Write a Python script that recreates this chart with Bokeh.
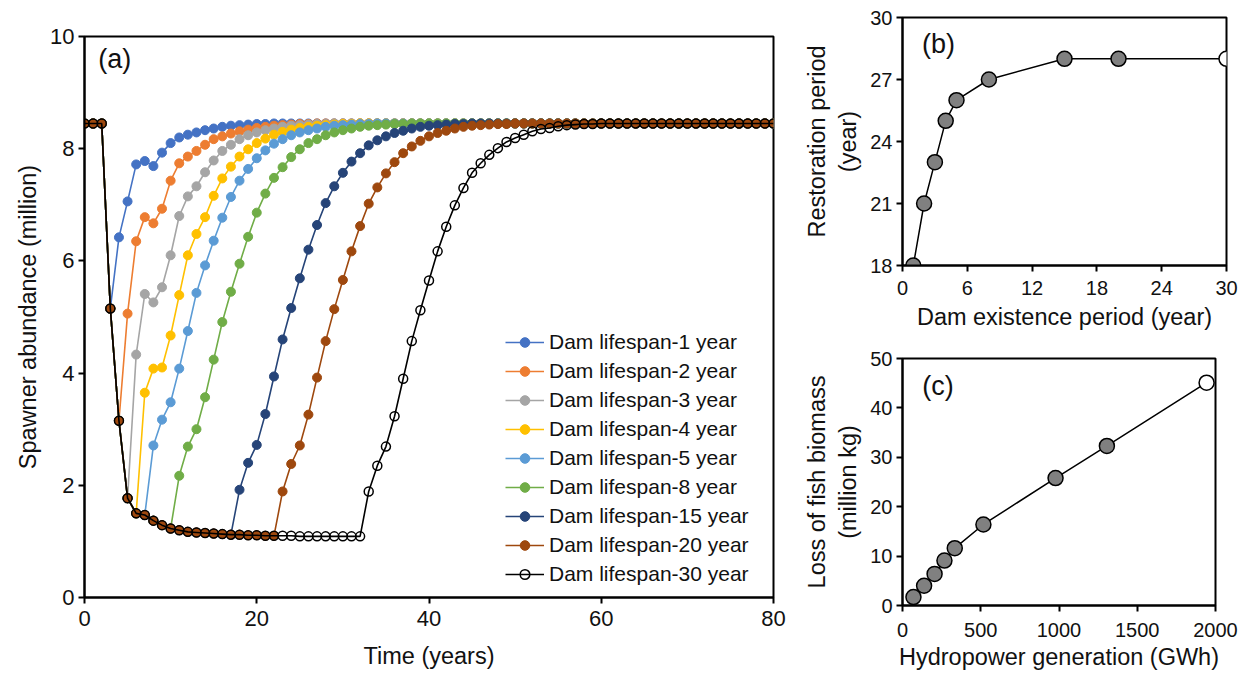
from bokeh.plotting import figure
from bokeh.models import Range1d, FixedTicker, Label, Legend, LegendItem
from bokeh.layouts import row, column
from bokeh.embed import file_html
from bokeh.resources import INLINE

FONT = "Liberation Sans"
TXT = "#111111"

# ---------------- Panel (a) data ----------------
years = list(range(0, 81))
equilibrium = 8.45
# shared decline phase while dam is present, t = 0..32
decline = [8.45, 8.45, 8.45, 5.15, 3.15, 1.77, 1.50, 1.47, 1.37, 1.29, 1.23,
           1.20, 1.17, 1.16, 1.15, 1.14, 1.13, 1.12, 1.12, 1.11, 1.11, 1.10,
           1.10, 1.10, 1.10, 1.09, 1.09, 1.09, 1.09, 1.09, 1.09, 1.09, 1.09]
lifespans = [1, 2, 3, 4, 5, 8, 15, 20, 30]
recovery_1 = [6.42, 7.06, 7.72, 7.78, 7.69, 7.93, 8.10, 8.20, 8.25, 8.29, 8.33,
              8.36, 8.39, 8.41, 8.42, 8.43, 8.44, 8.44, 8.45]
recovery_2 = [5.06, 6.35, 6.78, 6.67, 6.93, 7.43, 7.74, 7.86, 7.96, 8.07, 8.17,
              8.22, 8.27, 8.31, 8.34, 8.37, 8.39, 8.41, 8.42, 8.43, 8.44, 8.44, 8.45]
recovery_3 = [4.33, 5.41, 5.26, 5.53, 6.10, 6.80, 7.15, 7.33, 7.58, 7.79, 7.96,
              8.07, 8.17, 8.24, 8.29, 8.33, 8.36, 8.39, 8.41, 8.42, 8.43, 8.44,
              8.44, 8.45]
recovery_4 = [3.65, 4.08, 4.10, 4.67, 5.39, 6.10, 6.48, 6.78, 7.16, 7.47, 7.68,
              7.86, 7.99, 8.10, 8.18, 8.25, 8.30, 8.34, 8.37, 8.39, 8.41, 8.42,
              8.43, 8.44, 8.44, 8.45]
recovery_5 = [2.71, 3.17, 3.48, 4.08, 4.75, 5.43, 5.92, 6.36, 6.77, 7.14, 7.43,
              7.64, 7.83, 7.97, 8.09, 8.17, 8.24, 8.29, 8.33, 8.36, 8.39, 8.41,
              8.42, 8.43, 8.44, 8.44, 8.45]
recovery_8 = [2.17, 2.69, 3.00, 3.57, 4.24, 4.91, 5.45, 5.95, 6.43, 6.86, 7.20,
              7.48, 7.67, 7.85, 7.99, 8.10, 8.17, 8.24, 8.29, 8.33, 8.36, 8.39,
              8.41, 8.42, 8.43, 8.44, 8.44, 8.45]
recovery_15 = [1.92, 2.40, 2.72, 3.27, 3.94, 4.60, 5.16, 5.69, 6.20, 6.64, 7.03,
               7.33, 7.57, 7.77, 7.92, 8.06, 8.15, 8.22, 8.28, 8.32, 8.36, 8.39,
               8.41, 8.42, 8.43, 8.44, 8.44, 8.45]
recovery_20 = [1.89, 2.38, 2.71, 3.26, 3.92, 4.57, 5.14, 5.66, 6.17, 6.62, 7.02,
               7.31, 7.56, 7.76, 7.92, 8.04, 8.14, 8.22, 8.28, 8.32, 8.36, 8.39,
               8.41, 8.42, 8.43, 8.44, 8.44, 8.45]
recovery_30 = [1.89, 2.35, 2.69, 3.23, 3.90, 4.57, 5.12, 5.65, 6.17, 6.61, 6.99,
               7.30, 7.57, 7.74, 7.89, 8.01, 8.12, 8.19, 8.25, 8.31, 8.35, 8.37,
               8.40, 8.42, 8.43, 8.44, 8.44, 8.45]
recoveries = [recovery_1, recovery_2, recovery_3, recovery_4, recovery_5,
              recovery_8, recovery_15, recovery_20, recovery_30]
series_labels = ["Dam lifespan-%d year" % L for L in lifespans]
series_colors = ["#4472C4", "#ED7D31", "#A5A5A5", "#FFC000", "#5B9BD5",
                 "#70AD47", "#264478", "#9E480E", "#000000"]

a_xticks = [0, 20, 40, 60, 80]
a_yticks = [0, 2, 4, 6, 8, 10]

# ---------------- Panel (b) data ----------------
b_period = [1, 2, 3, 4, 5, 8, 15, 20, 30]
b_restore = [18, 21, 23, 25, 26, 27, 28, 28, 28]
b_xticks = [0, 6, 12, 18, 24, 30]
b_yticks = [18, 21, 24, 27, 30]

# ---------------- Panel (c) data ----------------
c_power = [70, 138, 205, 268, 334, 517, 978, 1306, 1943]
c_loss = [1.7, 4.0, 6.4, 9.1, 11.6, 16.4, 25.8, 32.3, 45.1]
c_xticks = [0, 500, 1000, 1500, 2000]
c_yticks = [0, 10, 20, 30, 40, 50]

point_fill = ["#808080"] * 8 + ["#ffffff"]


def style(p, xticks, yticks, tick_size, label_size, x_std, x_lab_std):
    p.grid.visible = False
    p.outline_line_color = "black"
    p.outline_line_width = 2
    p.background_fill_color = "white"
    p.border_fill_color = "white"
    p.xaxis.ticker = FixedTicker(ticks=xticks)
    p.yaxis.ticker = FixedTicker(ticks=yticks)
    for ax in (p.xaxis, p.yaxis):
        ax.axis_line_color = "black"
        ax.axis_line_width = 2
        ax.major_tick_line_color = "black"
        ax.major_tick_line_width = 2
        ax.major_tick_out = 6
        ax.major_tick_in = 0
        ax.minor_tick_line_color = None
        ax.major_label_text_font = FONT
        ax.major_label_text_font_size = tick_size
        ax.major_label_text_color = TXT
        ax.axis_label_text_font = FONT
        ax.axis_label_text_font_size = label_size
        ax.axis_label_text_font_style = "normal"
        ax.axis_label_text_color = TXT
    p.yaxis.major_label_standoff = 4
    p.yaxis.axis_label_standoff = 6
    p.xaxis.major_label_standoff = x_std
    p.xaxis.axis_label_standoff = x_lab_std


# ---------------- Figure (a) ----------------
pa = figure(width=790, height=672, x_range=Range1d(0, 80), y_range=Range1d(0, 10),
            output_backend="svg", toolbar_location=None,
            min_border_left=84, min_border_right=17, min_border_top=36,
            min_border_bottom=75, x_axis_label="Time (years)",
            y_axis_label="Spawner abundance (million)")
style(pa, a_xticks, a_yticks, "22px", "23.5px", 7, 14)

items = []
for L, rec, lab, col in zip(lifespans, recoveries, series_labels, series_colors):
    vals = decline[:L + 3] + rec
    vals = vals + [equilibrium] * (len(years) - len(vals))
    r_line = pa.line(years, vals, line_color=col, line_width=1.6)
    if L == 30:
        r_pts = pa.scatter(years, vals, size=9, fill_color=None,
                           line_color="black", line_width=1.5)
    else:
        r_pts = pa.scatter(years, vals, size=9, fill_color=col,
                           line_color=col, line_width=1)
    items.append(LegendItem(label=lab, renderers=[r_line, r_pts]))

legend = Legend(items=items, location=(421, 11), orientation="vertical")
legend.background_fill_alpha = 0
legend.border_line_color = None
legend.label_text_font = FONT
legend.label_text_font_size = "21px"
legend.label_text_color = TXT
legend.glyph_width = 39
legend.glyph_height = 24
legend.label_height = 24
legend.label_standoff = 5
legend.spacing = 5
legend.padding = 4
legend.margin = 0
pa.add_layout(legend)

pa.add_layout(Label(x=1.6, y=9.86, text="(a)", text_font=FONT, text_font_size="27px",
                    text_baseline="top", text_color=TXT))

# ---------------- Figure (b) ----------------
pb = figure(width=450, height=337, x_range=Range1d(0, 30), y_range=Range1d(18, 30),
            output_backend="svg", toolbar_location=None,
            min_border_left=112, min_border_right=14, min_border_top=17,
            min_border_bottom=72, x_axis_label="Dam existence period (year)",
            y_axis_label="Restoration period\n(year)")
style(pb, b_xticks, b_yticks, "20px", "23.5px", 9, 6)
pb.line(b_period, b_restore, line_color="black", line_width=1.5)
pb.scatter(b_period, b_restore, size=15, fill_color=point_fill, line_color="black",
           line_width=1.5)
pb.add_layout(Label(x=1.8, y=29.45, text="(b)", text_font=FONT, text_font_size="27px",
                    text_baseline="top", text_color=TXT))

# ---------------- Figure (c) ----------------
pc = figure(width=450, height=336, x_range=Range1d(0, 2000), y_range=Range1d(0, 50),
            output_backend="svg", toolbar_location=None,
            min_border_left=112, min_border_right=25, min_border_top=21,
            min_border_bottom=68, x_axis_label="Hydropower generation (GWh)",
            y_axis_label="Loss of fish biomass\n(million kg)")
style(pc, c_xticks, c_yticks, "20px", "23.5px", 11, 4)
pc.line(c_power, c_loss, line_color="black", line_width=1.5)
pc.scatter(c_power, c_loss, size=15, fill_color=point_fill, line_color="black",
           line_width=1.5)
pc.add_layout(Label(x=126, y=47.4, text="(c)", text_font=FONT, text_font_size="27px",
                    text_baseline="top", text_color=TXT))

layout = row(pa, column(row(pb), row(pc)))
open("out.html", "w").write(file_html(layout, INLINE))
